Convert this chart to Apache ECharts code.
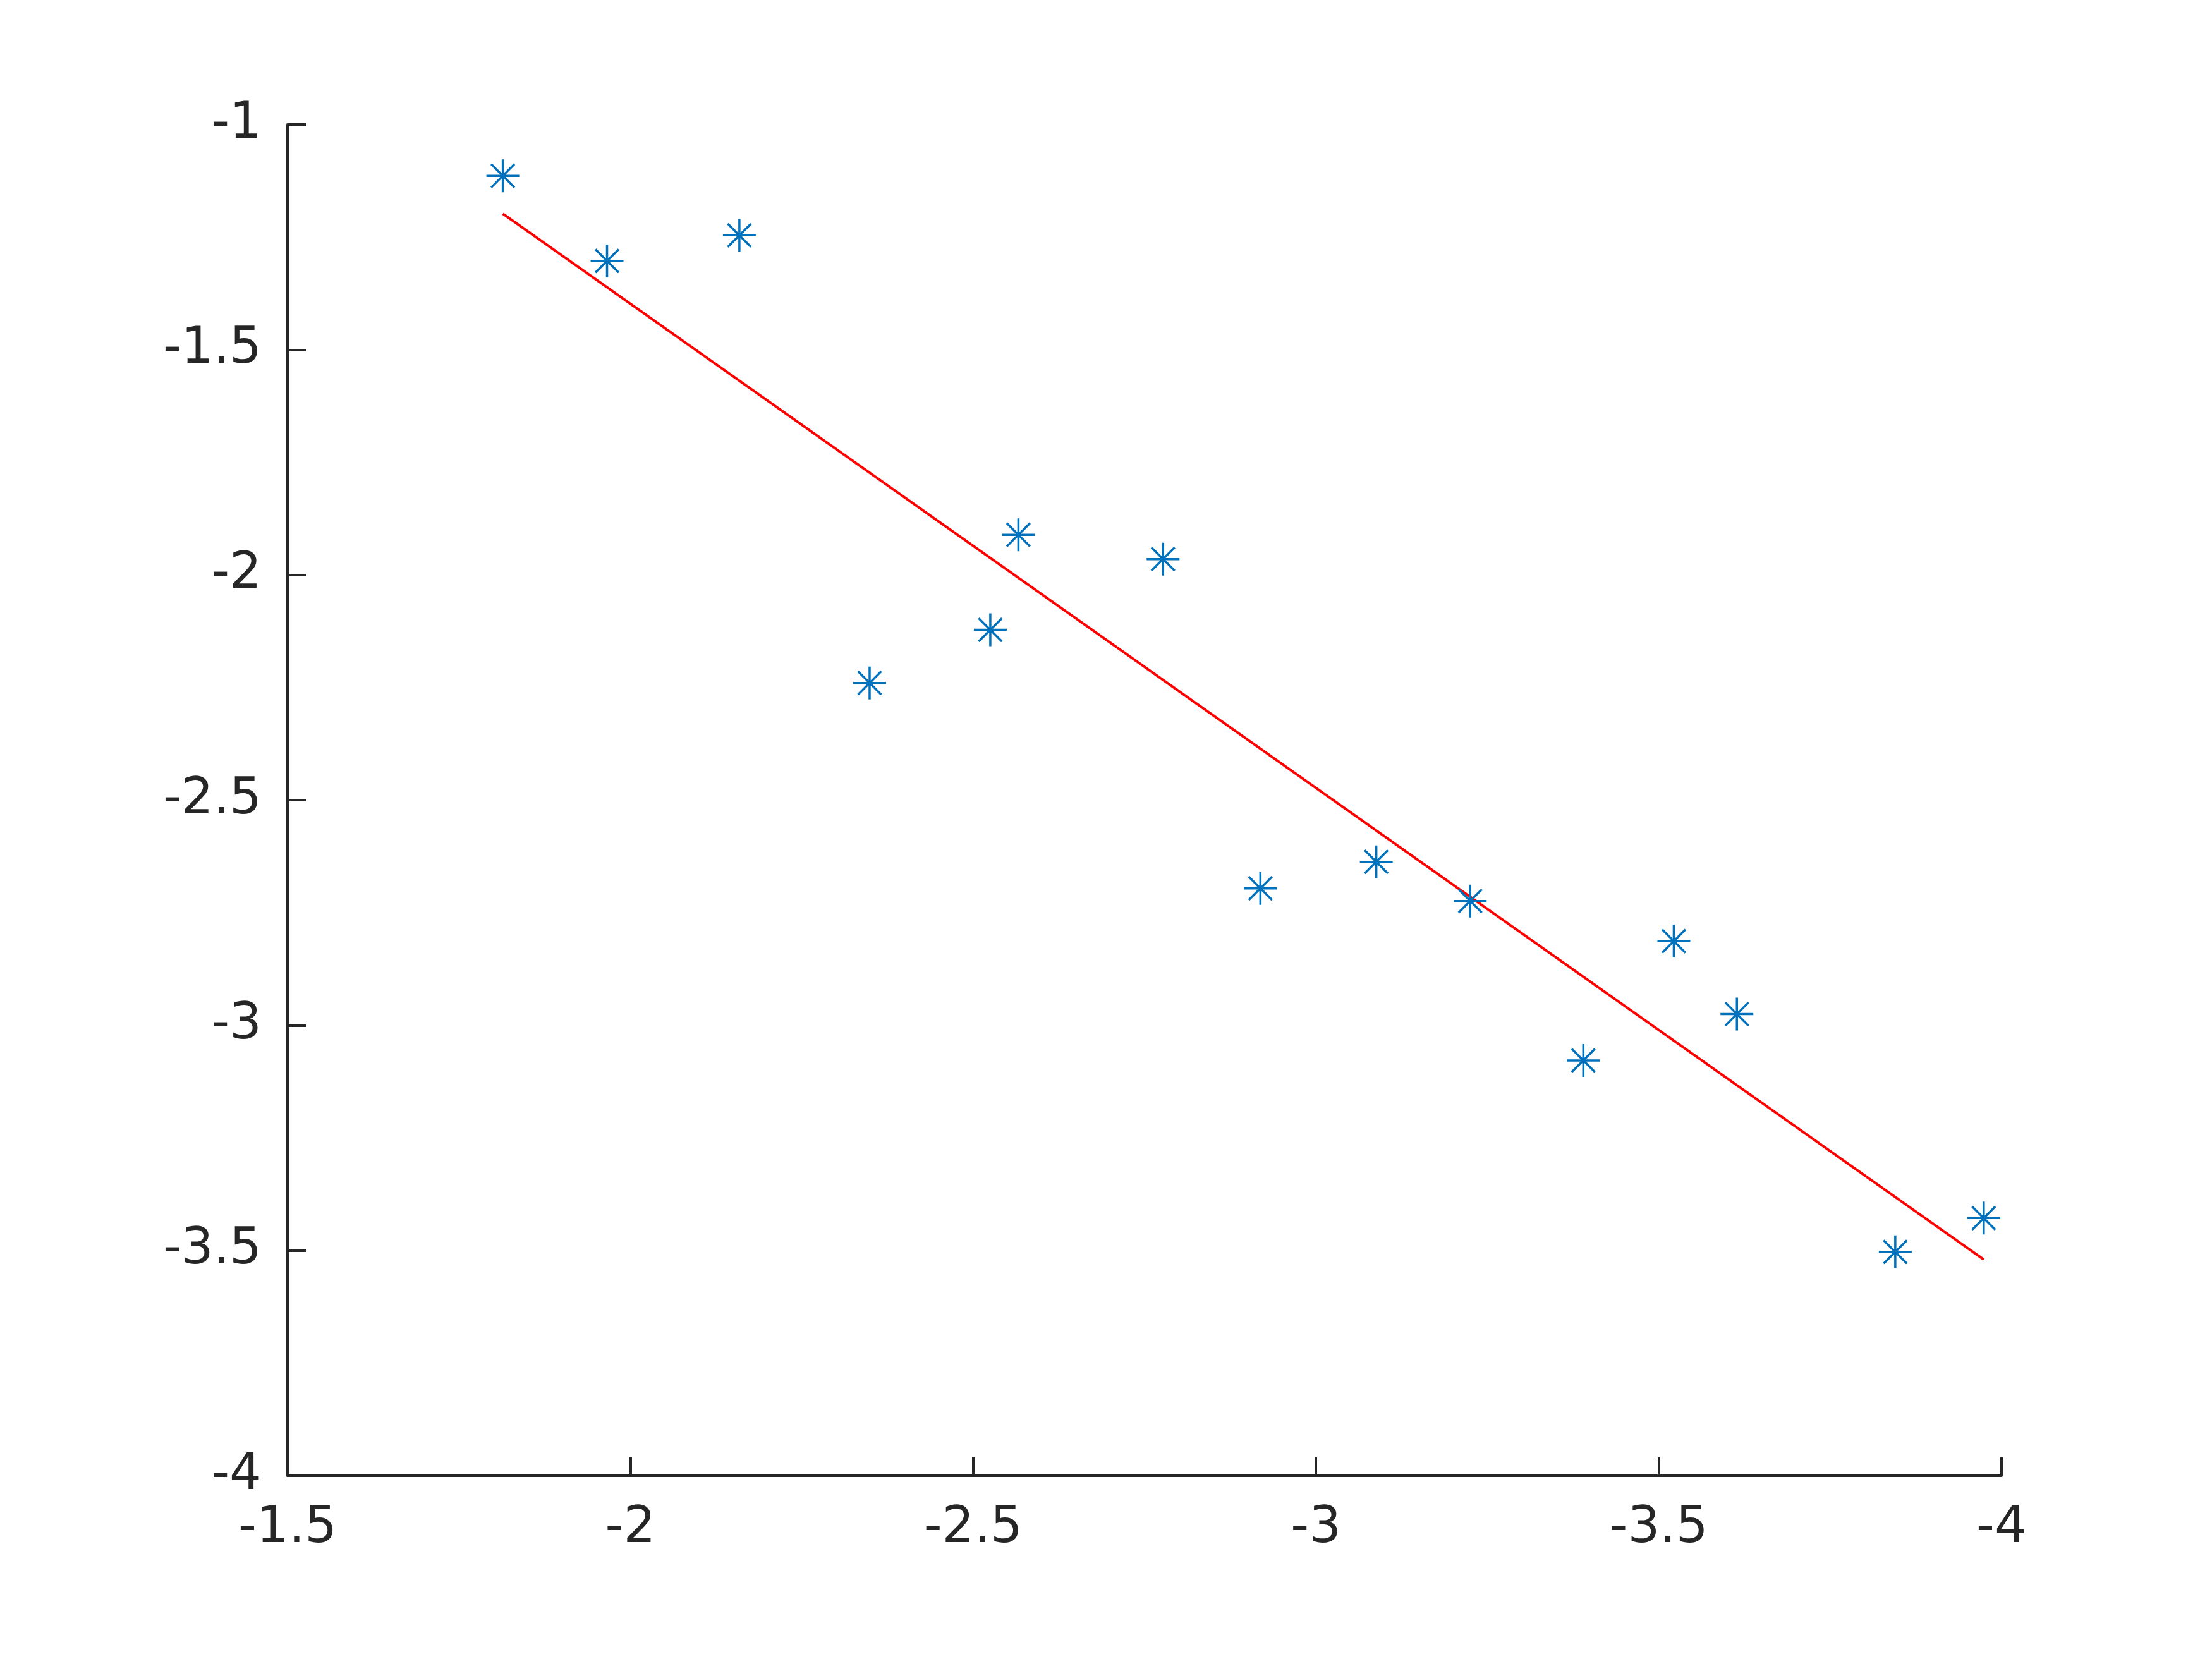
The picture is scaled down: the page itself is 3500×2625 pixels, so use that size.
<!DOCTYPE html>
<html>
<head>
<meta charset="utf-8">
<script src="https://cdn.jsdelivr.net/npm/echarts@6/dist/echarts.min.js"></script>
<style>
html,body{margin:0;padding:0;background:#fff;}
#c{width:3500px;height:2625px;}
</style>
</head>
<body>
<div id="c"></div>
<script>
// Data
const xValues = [-1.814, -1.966, -2.159, -2.349, -2.525, -2.566, -2.777, -2.919, -3.088, -3.225, -3.390, -3.522, -3.614, -3.845, -3.974];
const yValues = [-1.114, -1.303, -1.246, -2.240, -2.122, -1.911, -1.965, -2.696, -2.637, -2.724, -3.078, -2.813, -2.975, -3.503, -3.428];
const fitX = [-1.814, -3.974];
const fitY = [-1.198, -3.520];

const points = xValues.map((x, i) => [x, yValues[i]]);
const fitLine = fitX.map((x, i) => [x, fitY[i]]);

const axisColor = '#262626';
const chart = echarts.init(document.getElementById('c'), null, {renderer: 'canvas'});
const asterisk = 'path://M0,-1L0,1M-1,0L1,0M-0.7071,-0.7071L0.7071,0.7071M-0.7071,0.7071L0.7071,-0.7071';

chart.setOption({
  backgroundColor: '#ffffff',
  animation: false,
  grid: {left: 455, right: 333, top: 197, bottom: 290, containLabel: false},
  xAxis: {
    type: 'value', min: -4, max: -1.5, interval: 0.5, inverse: true,
    axisLine: {show: true, onZero: false, lineStyle: {color: axisColor, width: 4}},
    axisTick: {show: true, inside: true, length: 29, lineStyle: {color: axisColor, width: 4}},
    axisLabel: {color: axisColor, fontSize: 80, fontFamily: 'DejaVu Sans', margin: 44,
      formatter: v => String(v)},
    splitLine: {show: false}
  },
  yAxis: {
    type: 'value', min: -4, max: -1, interval: 0.5,
    axisLine: {show: true, onZero: false, lineStyle: {color: axisColor, width: 4}},
    axisTick: {show: true, inside: true, length: 29, lineStyle: {color: axisColor, width: 4}},
    axisLabel: {color: axisColor, fontSize: 80, fontFamily: 'DejaVu Sans', margin: 41,
      padding: [8, 0, 0, 0], formatter: v => String(v)},
    splitLine: {show: false}
  },
  series: [
    {
      type: 'line', data: fitLine, showSymbol: false, silent: true,
      lineStyle: {color: '#FF0000', width: 4}, z: 2
    },
    {
      type: 'scatter', data: points, symbol: asterisk, symbolSize: 52, silent: true,
      itemStyle: {color: 'transparent', borderColor: '#0072BD', borderWidth: 3.5, opacity: 1},
      z: 3
    }
  ]
});
</script>
</body>
</html>
